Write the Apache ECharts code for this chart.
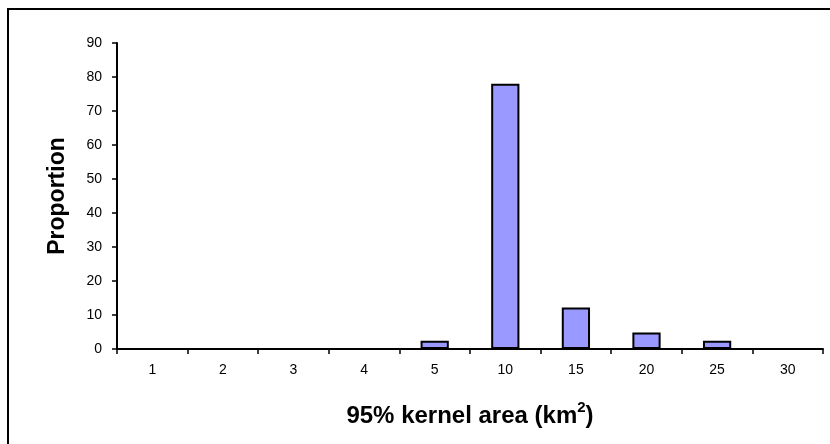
<!DOCTYPE html>
<html>
<head>
<meta charset="utf-8">
<script src="https://cdn.jsdelivr.net/npm/echarts@6/dist/echarts.min.js"></script>
<style>
  html, body { margin: 0; padding: 0; background: #fff; }
  #chart { width: 830px; height: 444px; }
</style>
</head>
<body>
<div id="chart"></div>
<script>
// Home range size classes (95% kernel area, km²) and proportion of animals per class
const sizeClasses = ['1', '2', '3', '4', '5', '10', '15', '20', '25', '30'];
const proportions = [0, 0, 0, 0, 2.44, 78.05, 12.2, 4.88, 2.44, 0];
const yTicks = { min: 0, max: 90, step: 10 };

const FONT = '"Liberation Sans", Arial, sans-serif';

const chart = echarts.init(document.getElementById('chart'), null, { renderer: 'canvas' });

chart.setOption({
  animation: false,
  backgroundColor: '#ffffff',
  graphic: [{
    type: 'rect',
    shape: { x: 8, y: 9, width: 900, height: 500 },
    style: { fill: 'none', stroke: '#000', lineWidth: 2 },
    silent: true
  }],
  grid: { left: 117, right: 7, top: 43, bottom: 95, containLabel: false },
  xAxis: {
    type: 'category',
    data: sizeClasses,
    boundaryGap: true,
    name: '95% kernel area (km{sup|2})',
    nameLocation: 'middle',
    nameGap: 51,
    nameTextStyle: {
      fontFamily: FONT, fontSize: 24, fontWeight: 'bold', color: '#000',
      lineHeight: 32,
      rich: {
        sup: { fontFamily: FONT, fontSize: 15, fontWeight: 'bold', color: '#000',
               verticalAlign: 'top', lineHeight: 15 }
      }
    },
    axisLine: { lineStyle: { color: '#000', width: 2 } },
    axisTick: { show: true, alignWithLabel: false, length: 5, inside: false,
                lineStyle: { color: '#000', width: 1.5 } },
    axisLabel: { fontFamily: FONT, fontSize: 14, color: '#000', margin: 14 },
    splitLine: { show: false }
  },
  yAxis: {
    type: 'value',
    min: yTicks.min,
    max: yTicks.max,
    interval: yTicks.step,
    name: 'Proportion',
    nameLocation: 'middle',
    nameGap: 48,
    nameRotate: 90,
    nameTextStyle: { fontFamily: FONT, fontSize: 23, fontWeight: 'bold', color: '#000' },
    axisLine: { show: true, lineStyle: { color: '#000', width: 2 } },
    axisTick: { show: true, length: 5, inside: false, lineStyle: { color: '#000', width: 1.5 } },
    axisLabel: { fontFamily: FONT, fontSize: 14, color: '#000', margin: 15 },
    splitLine: { show: false }
  },
  series: [{
    type: 'bar',
    data: proportions,
    barWidth: '40%',
    itemStyle: { color: '#9999FF', borderColor: '#000', borderWidth: 2 }
  }]
});
</script>
</body>
</html>
